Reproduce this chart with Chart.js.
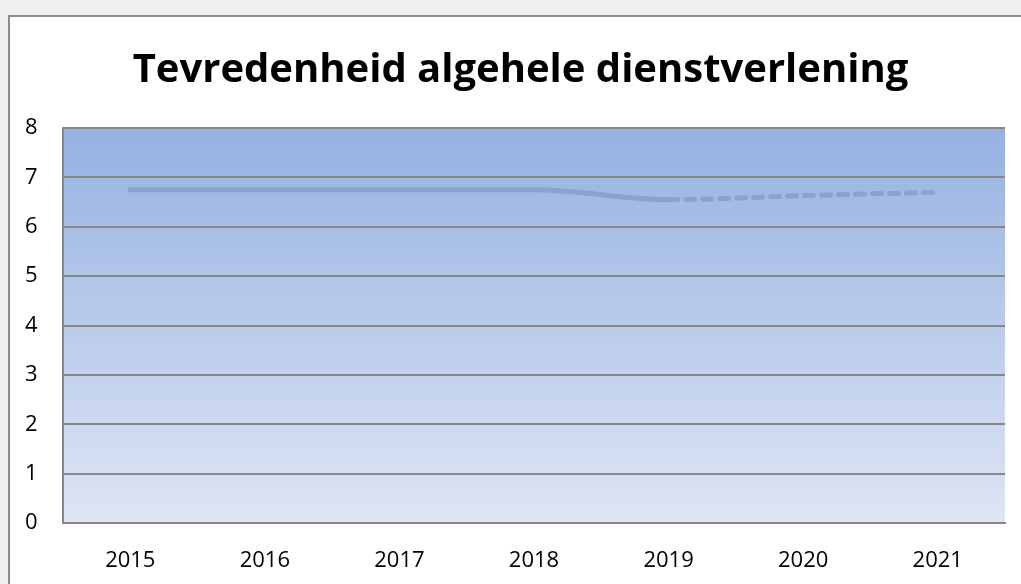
<!DOCTYPE html>
<html>
<head>
<meta charset="utf-8">
<script src="https://cdn.jsdelivr.net/npm/chart.js@4"></script>
<style>
  body { margin: 0; background: #f0f0f0; overflow: hidden; }
  #box { position: absolute; left: 8px; top: 15px; width: 1040px; height: 600px;
         background: #fff; border: 2px solid #8c8c8c; }
  canvas { position: absolute; left: 0; top: 0; }
</style>
</head>
<body>
<div id="box"><canvas id="lijn" width="1011" height="567"></canvas></div>
<script>
// jaren en scores
const jaren = ['2015', '2016', '2017', '2018', '2019', '2020', '2021'];
const scores = [6.75, 6.75, 6.75, 6.75, 6.55, 6.63, 6.7];
const yTicks = [0, 1, 2, 3, 4, 5, 6, 7, 8];

const lijnKleur = '#8aa2cc';
const rasterKleur = '#878787';

// verloop achter het plotgebied
const achtergrond = {
    id: 'achtergrond',
    beforeDraw(chart) {
        const { ctx, chartArea: a } = chart;
        const g = ctx.createLinearGradient(0, a.top, 0, a.bottom);
        g.addColorStop(0, '#95b1e1');
        g.addColorStop(1, '#dfe6f4');
        ctx.save();
        ctx.fillStyle = g;
        ctx.fillRect(a.left, a.top, a.right - a.left, a.bottom - a.top);
        ctx.restore();
    }
};

new Chart(document.getElementById('lijn'), {
    type: 'line',
    data: {
        labels: jaren,
        datasets: [{
            data: scores,
            borderColor: lijnKleur,
            borderWidth: 5,
            borderCapStyle: 'round',
            pointRadius: 0,
            cubicInterpolationMode: 'monotone',
            segment: {
                borderDash: c => c.p0DataIndex >= 4 ? [9, 8] : undefined
            }
        }]
    },
    options: {
        responsive: false,
        animation: false,
        layout: { padding: { left: 26, right: 16, top: 0, bottom: 0 } },
        plugins: {
            legend: { display: false },
            tooltip: { enabled: false },
            title: {
                display: true,
                text: 'Tevredenheid algehele dienstverlening',
                color: '#000',
                font: { family: 'Open Sans', size: 40, weight: 'bold' },
                padding: { top: 30, bottom: 33 }
            }
        },
        scales: {
            x: {
                offset: true,
                afterFit: ax => { ax.height = 61; },
                grid: { display: false, drawTicks: false },
                border: { color: rasterKleur, width: 2 },
                ticks: { color: '#000', padding: 25, font: { family: 'Open Sans', size: 22 } }
            },
            y: {
                min: 0,
                max: 8,
                afterBuildTicks: ax => { ax.ticks = yTicks.map(v => ({ value: v })); },
                afterFit: ax => { ax.width = 27; },
                grid: { color: rasterKleur, lineWidth: 2, drawTicks: false },
                border: { color: rasterKleur, width: 2 },
                ticks: { color: '#000', mirror: true, padding: -38, font: { family: 'Open Sans', size: 22 } }
            }
        }
    },
    plugins: [achtergrond]
});
</script>
</body>
</html>
